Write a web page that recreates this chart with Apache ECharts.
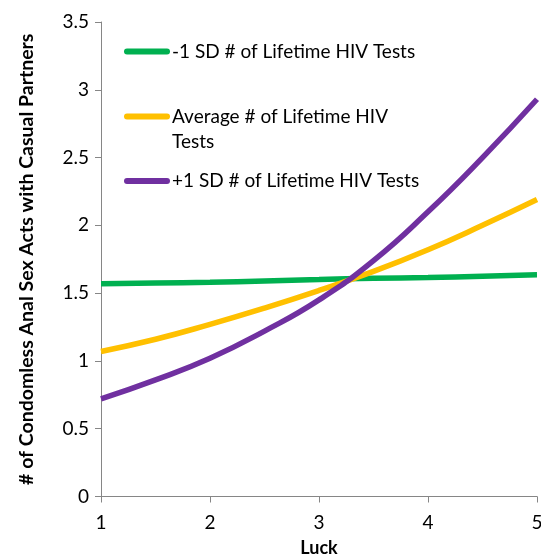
<!DOCTYPE html>
<html>
<head>
<meta charset="utf-8">
<script src="https://cdn.jsdelivr.net/npm/echarts@6/dist/echarts.min.js"></script>
<style>
html,body{margin:0;padding:0;background:#fff;}
#chart{width:541px;height:559px;}
</style>
</head>
<body>
<div id="chart"></div>
<script>
// Data
const luck = [1, 1.5, 2, 2.5, 3, 3.5, 4, 4.5, 5];
const lowTests = [1.57, 1.575, 1.58, 1.59, 1.60, 1.61, 1.615, 1.625, 1.635];
const avgTests = [1.07, 1.16, 1.27, 1.39, 1.52, 1.66, 1.82, 2.00, 2.19];
const highTests = [0.72, 0.86, 1.02, 1.22, 1.45, 1.74, 2.10, 2.50, 2.93];
const seriesNames = ['-1 SD # of Lifetime HIV Tests', 'Average # of Lifetime HIV Tests', '+1 SD # of Lifetime HIV Tests'];
const xTicks = [1, 2, 3, 4, 5];
const yTicks = [0, 0.5, 1, 1.5, 2, 2.5, 3, 3.5];
const xTitle = 'Luck';
const yTitle = '# of Condomless Anal Sex Acts with Casual Partners';

const colors = ['#00B050', '#FFC000', '#7030A0'];
const FONT = 'Lato';
const pairs = (ys) => luck.map((x, i) => [x, ys[i]]);
const icon = 'path://M3,0 H43 A3,3 0 0 1 43,6 H3 A3,3 0 0 1 3,0 Z';

function legendFor(name, top, formatter) {
  return {
    data: [name],
    left: 124,
    top: top,
    orient: 'vertical',
    icon: icon,
    itemWidth: 46,
    itemHeight: 6,
    itemGap: 0,
    padding: 0,
    selectedMode: false,
    itemStyle: { borderWidth: 0 },
    formatter: formatter || undefined,
    textStyle: { fontFamily: FONT, fontSize: 19, color: '#000', lineHeight: 20, padding: [0, 0, 0, -3] }
  };
}

const chart = echarts.init(document.getElementById('chart'));
chart.setOption({
  animation: false,
  backgroundColor: '#fff',
  grid: { left: 101, right: 4, top: 22, bottom: 62.5, containLabel: false, outerBoundsMode: 'none' },
  legend: [
    legendFor(seriesNames[0], 41.5),
    legendFor(seriesNames[1], 106.5, () => 'Average # of Lifetime HIV'),
    legendFor(seriesNames[2], 171)
  ],
  graphic: [{
    type: 'text', left: 172, top: 132,
    style: { text: 'Tests', fontFamily: FONT, fontSize: 19, fill: '#000' }
  }],
  xAxis: {
    type: 'value', min: xTicks[0], max: xTicks[xTicks.length - 1], interval: 1,
    name: xTitle, nameLocation: 'middle', nameGap: 43,
    nameTextStyle: { fontFamily: FONT, fontSize: 18, fontWeight: 'bold', color: '#000' },
    axisLine: { show: true, lineStyle: { color: '#868686', width: 1 } },
    axisTick: { show: true, length: 6, lineStyle: { color: '#868686' } },
    splitLine: { show: false },
    axisLabel: { fontFamily: FONT, fontSize: 19, color: '#000', margin: 17 }
  },
  yAxis: {
    type: 'value', min: yTicks[0], max: yTicks[yTicks.length - 1], interval: 0.5,
    name: yTitle, nameLocation: 'middle', nameGap: 64, nameRotate: 90,
    nameTextStyle: { fontFamily: FONT, fontSize: 19.5, fontWeight: 'bold', color: '#000' },
    axisLine: { show: true, lineStyle: { color: '#868686', width: 1 } },
    axisTick: { show: true, length: 6, lineStyle: { color: '#868686' } },
    splitLine: { show: false },
    axisLabel: { fontFamily: FONT, fontSize: 19, color: '#000', margin: 12 }
  },
  series: [
    { name: seriesNames[0], type: 'line', data: pairs(lowTests), smooth: true, showSymbol: false,
      color: colors[0], lineStyle: { width: 5.5, color: colors[0] } },
    { name: seriesNames[1], type: 'line', data: pairs(avgTests), smooth: true, showSymbol: false,
      color: colors[1], lineStyle: { width: 5.5, color: colors[1] } },
    { name: seriesNames[2], type: 'line', data: pairs(highTests), smooth: true, showSymbol: false,
      color: colors[2], lineStyle: { width: 5.5, color: colors[2] } }
  ]
});
</script>
</body>
</html>
